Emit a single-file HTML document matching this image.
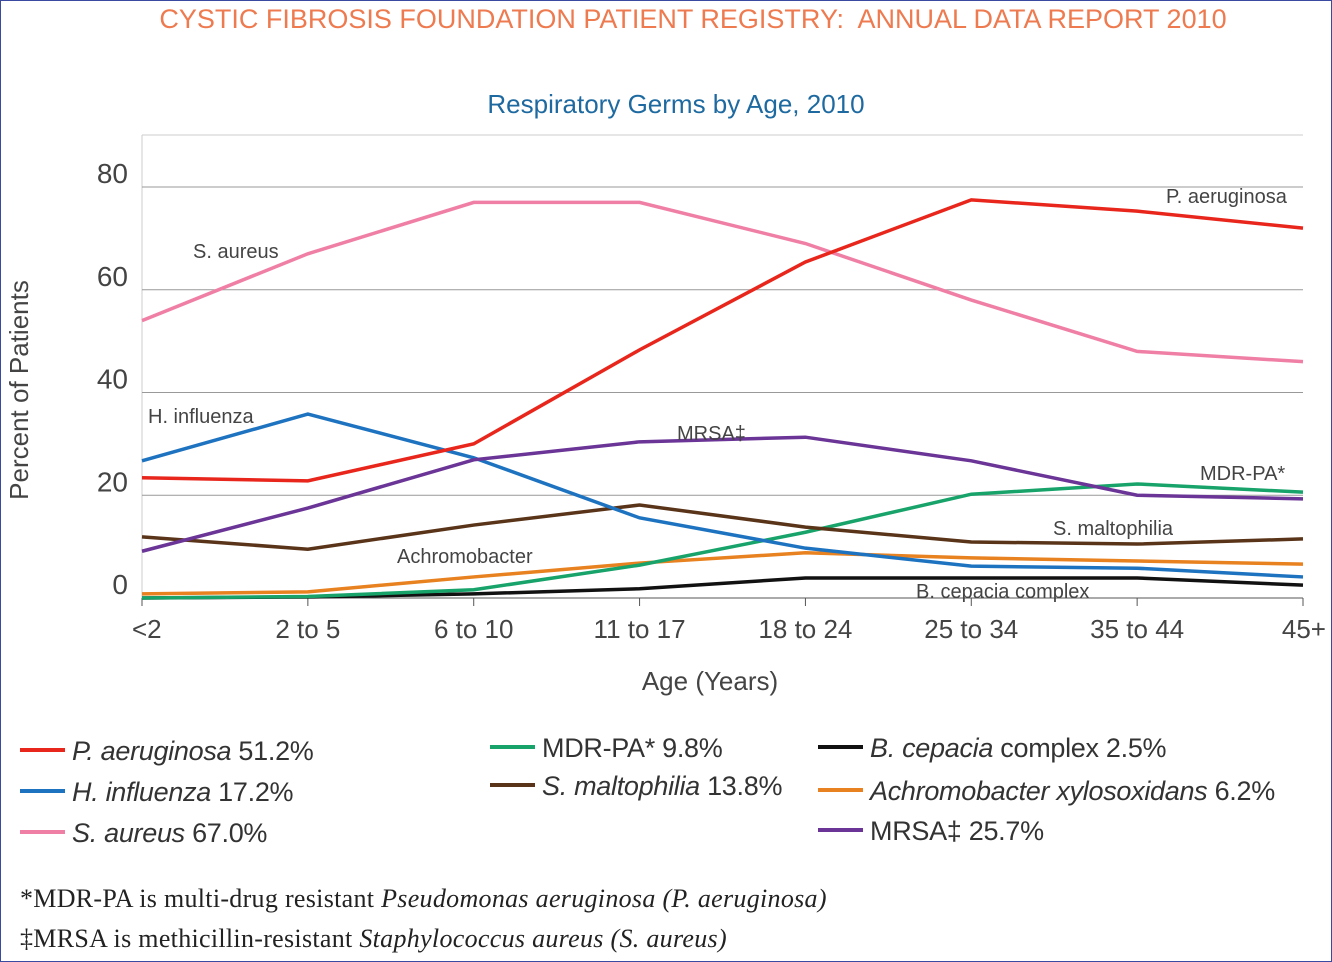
<!DOCTYPE html>
<html><head><meta charset="utf-8"><style>
body{margin:0;width:1332px;height:962px;background:#fff;overflow:hidden;font-family:"Liberation Sans",sans-serif}
#frame{position:absolute;left:0;top:0;width:1330px;height:960px;border:1px solid #3a4aa0}
.t{position:absolute;white-space:nowrap}
</style></head><body>
<div id="frame"></div>
<div class="t" style="left:0;width:1386px;text-align:center;top:4px;font-size:27px;color:#ee7a4f">CYSTIC FIBROSIS FOUNDATION PATIENT REGISTRY:&nbsp; ANNUAL DATA REPORT 2010</div>
<div class="t" style="left:0;width:1352px;text-align:center;top:89px;font-size:26px;color:#1e6aa0">Respiratory Germs by Age, 2010</div>
<svg id="c" width="1332" height="962" style="position:absolute;left:0;top:0"></svg>
<div class="t" style="left:20px;top:884px;font-family:'Liberation Serif',serif;font-size:26px;letter-spacing:0.3px;color:#222">*MDR-PA is multi-drug resistant <i>Pseudomonas aeruginosa (P. aeruginosa)</i></div>
<div class="t" style="left:20px;top:924px;font-family:'Liberation Serif',serif;font-size:26px;letter-spacing:0.3px;color:#222">‡MRSA is methicillin-resistant <i>Staphylococcus aureus (S. aureus)</i></div>
<script>
const categories=["<2","2 to 5","6 to 10","11 to 17","18 to 24","25 to 34","35 to 44","45+"];
const yTicks=[0,20,40,60,80];
const pAeruginosa=[23.4,22.8,30,48.3,65.4,77.5,75.3,72];
const sAureus=[54,67,77,77,69,58,48,46];
const hInfluenza=[26.7,35.8,27.3,15.6,9.7,6.2,5.8,4.1];
const mrsa=[9.1,17.5,26.9,30.4,31.3,26.7,20,19.3];
const mdrPa=[0,0.3,1.6,6.4,12.8,20.2,22.2,20.6];
const sMaltophilia=[11.9,9.5,14.2,18.1,13.8,10.9,10.5,11.5];
const achromobacter=[0.8,1.2,4.1,6.8,8.8,7.8,7.2,6.6];
const bCepacia=[0,0.2,0.8,1.8,3.9,3.9,3.9,2.5];
const svg=document.getElementById('c');const NS='http://www.w3.org/2000/svg';
const x=i=>142+i*(1303-142)/7;const y=v=>598-v*5.1375;
function mk(t,a,p){const e=document.createElementNS(NS,t);for(const k in a)e.setAttribute(k,a[k]);(p||svg).appendChild(e);return e;}
mk('line',{x1:142,y1:135,x2:1303,y2:135,stroke:'#ccc','stroke-width':1});
mk('line',{x1:142,y1:135,x2:142,y2:598,stroke:'#ccc','stroke-width':1});
yTicks.forEach(v=>{const l=mk('line',{x1:142,y1:y(v),x2:1303,y2:y(v),stroke:v?'#999':'#555','stroke-width':1});


const t=mk('text',{x:128,y:y(v)-4,'text-anchor':'end','font-size':28,fill:'#444'});t.textContent=v;

});
categories.forEach((c,i)=>{mk('line',{x1:x(i),y1:598,x2:x(i),y2:606,stroke:'#555'});
const t=mk('text',{x:x(i),y:638,'text-anchor':i==0?'start':i==7?'end':'middle','font-size':26,fill:'#444'});t.textContent=c;
if(i==0)t.setAttribute('x',132);if(i==7)t.setAttribute('x',1326);

});
let t=mk('text',{x:710,y:690,'text-anchor':'middle','font-size':26,fill:'#444'});t.textContent='Age (Years)';

t=mk('text',{x:0,y:0,transform:'translate(28,390) rotate(-90)','text-anchor':'middle','font-size':26,fill:'#444'});t.textContent='Percent of Patients';

const series=[[bCepacia,'#111','b-cepacia'],[achromobacter,'#e8811f','achromobacter'],[mdrPa,'#17a36a','mdr-pa'],[sMaltophilia,'#5a3419','s-maltophilia'],[hInfluenza,'#1e73c0','h-influenza'],[mrsa,'#6a3596','mrsa'],[sAureus,'#f07fa6','s-aureus'],[pAeruginosa,'#e8261c','p-aeruginosa']];
series.forEach(s=>{const p=mk('polyline',{points:s[0].map((v,i)=>x(i)+','+y(v)).join(' '),fill:'none',stroke:s[1],'stroke-width':3.5});

});
[['P. aeruginosa',1166,203],['S. aureus',193,258],['H. influenza',148,423],['MRSA‡',677,440],['MDR-PA*',1200,480],['S. maltophilia',1053,535],['Achromobacter',397,563],['B. cepacia complex',916,598]].forEach(l=>{const e=mk('text',{x:l[1],y:l[2],'font-size':20,fill:'#444'});e.textContent=l[0];

});
const legend=[['#e8261c',20,750,'<tspan font-style="italic">P. aeruginosa</tspan> 51.2%'],['#1e73c0',20,791,'<tspan font-style="italic">H. influenza</tspan> 17.2%'],['#f07fa6',20,832,'<tspan font-style="italic">S. aureus</tspan> 67.0%'],
['#17a36a',490,747,'MDR-PA* 9.8%'],['#5a3419',490,785,'<tspan font-style="italic">S. maltophilia</tspan> 13.8%'],
['#111',818,747,'<tspan font-style="italic">B. cepacia</tspan> complex 2.5%'],['#e8811f',818,790,'<tspan font-style="italic">Achromobacter xylosoxidans</tspan> 6.2%'],['#6a3596',818,830,'MRSA‡ 25.7%']];
legend.forEach(l=>{const g=mk('g',{});
mk('line',{x1:l[1],y1:l[2],x2:l[1]+45,y2:l[2],stroke:l[0],'stroke-width':4},g);
const e=mk('text',{x:l[1]+52,y:l[2]+10,'font-size':27,fill:'#333','letter-spacing':'-0.3'},g);e.innerHTML=l[3];});
</script>
</body></html>
